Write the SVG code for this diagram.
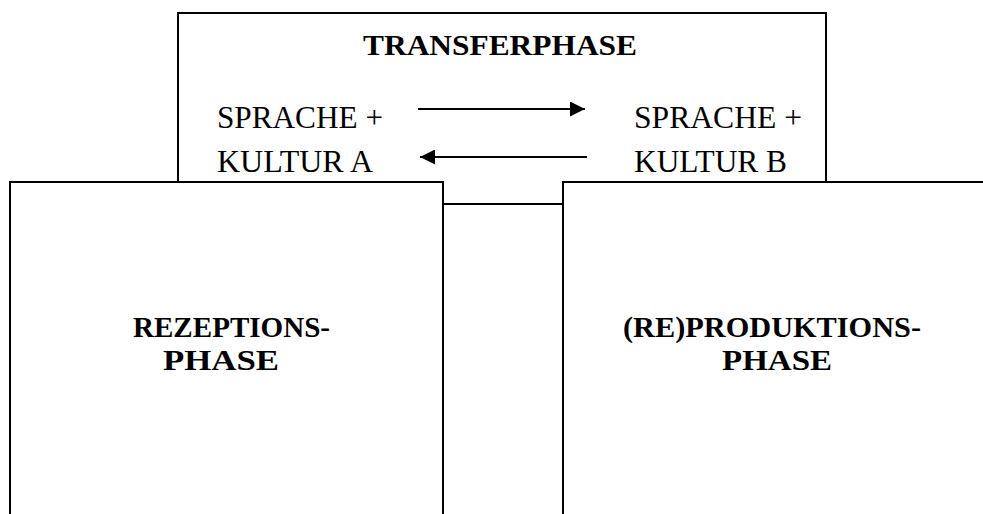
<svg xmlns="http://www.w3.org/2000/svg" width="983" height="514" viewBox="0 0 983 514">
  <style>
    .box { fill: #ffffff; stroke: #000000; stroke-width: 2; }
    .lbl { font-family: "Liberation Serif", "Times New Roman", serif; fill: #000000; }
    .norm { font-size: 31px; }
    .bold { font-size: 30px; font-weight: bold; }
    .conn { stroke: #000000; stroke-width: 2; fill: none; }
  </style>
  <defs>
    <marker id="head" viewBox="0 0 10 10" refX="10" refY="5" markerWidth="15" markerHeight="15" markerUnits="userSpaceOnUse" orient="auto">
      <path d="M0,0 L10,5 L0,10 z" fill="#000000"/>
    </marker>
  </defs>
  <rect width="983" height="514" fill="#ffffff"/>

  <g id="transferphase">
    <rect class="box" x="178" y="13" width="648" height="191"/>
    <text class="lbl bold" x="363" y="55" textLength="274" lengthAdjust="spacingAndGlyphs">TRANSFERPHASE</text>
    <text class="lbl norm" x="217" y="128" textLength="166" lengthAdjust="spacingAndGlyphs">SPRACHE +</text>
    <text class="lbl norm" x="217" y="172" textLength="156" lengthAdjust="spacingAndGlyphs">KULTUR A</text>
    <text class="lbl norm" x="634" y="128" textLength="168" lengthAdjust="spacingAndGlyphs">SPRACHE +</text>
    <text class="lbl norm" x="634" y="172" textLength="153" lengthAdjust="spacingAndGlyphs">KULTUR B</text>
  </g>

  <g id="rezeptionsphase">
    <rect class="box" x="10" y="182" width="433" height="345"/>
    <text class="lbl bold" x="133" y="337" textLength="197" lengthAdjust="spacingAndGlyphs">REZEPTIONS-</text>
    <text class="lbl bold" x="163" y="370" textLength="116" lengthAdjust="spacingAndGlyphs">PHASE</text>
  </g>

  <g id="produktionsphase">
    <rect class="box" x="563" y="182" width="440" height="345"/>
    <text class="lbl bold" x="623" y="337" textLength="298" lengthAdjust="spacingAndGlyphs">(RE)PRODUKTIONS-</text>
    <text class="lbl bold" x="722" y="370" textLength="110" lengthAdjust="spacingAndGlyphs">PHASE</text>
  </g>

  <g id="connectors">
    <line class="conn" x1="418" y1="109" x2="585" y2="109" marker-end="url(#head)"/>
    <line class="conn" x1="587" y1="157" x2="420" y2="157" marker-end="url(#head)"/>
  </g>
</svg>
